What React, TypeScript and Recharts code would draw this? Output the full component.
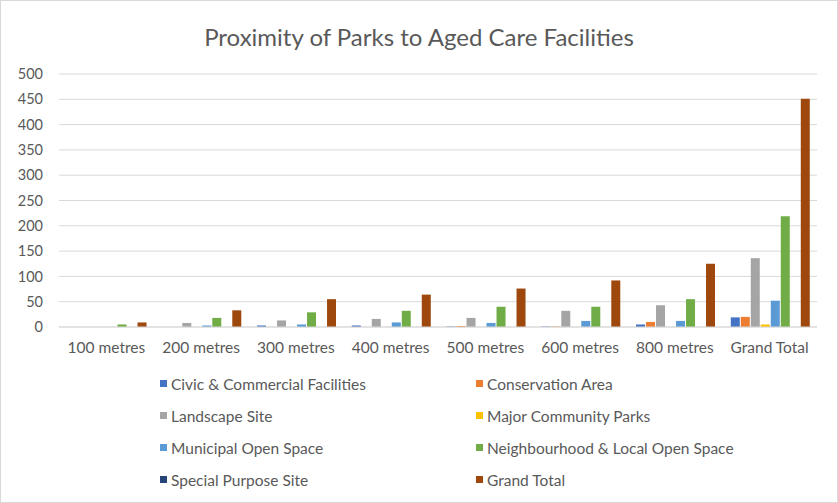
import React from 'react';
import { BarChart, Bar, XAxis, YAxis, CartesianGrid } from 'recharts';

const categories = ['100 metres', '200 metres', '300 metres', '400 metres', '500 metres', '600 metres', '800 metres', 'Grand Total'];

const civic = [0, 0, 3, 3, 1, 1, 5, 19];
const conservation = [0, 0, 0, 0, 2, 1, 10, 20];
const landscape = [0, 8, 13, 16, 18, 32, 43, 136];
const majorParks = [0, 0, 0, 0, 0, 0, 0, 5];
const municipal = [0, 3, 5, 9, 8, 12, 12, 52];
const neighbourhood = [5, 18, 29, 32, 40, 40, 55, 219];
const specialPurpose = [0, 0, 0, 0, 0, 0, 0, 0];
const grandTotal = [9, 33, 55, 64, 76, 92, 125, 451];

const yTicks = [0, 50, 100, 150, 200, 250, 300, 350, 400, 450, 500];

const series = [
  { key: 'civic', name: 'Civic & Commercial Facilities', color: '#4472C4', values: civic },
  { key: 'conservation', name: 'Conservation Area', color: '#ED7D31', values: conservation },
  { key: 'landscape', name: 'Landscape Site', color: '#A5A5A5', values: landscape },
  { key: 'major', name: 'Major Community Parks', color: '#FFC000', values: majorParks },
  { key: 'municipal', name: 'Municipal Open Space', color: '#5B9BD5', values: municipal },
  { key: 'neighbourhood', name: 'Neighbourhood & Local Open Space', color: '#70AD47', values: neighbourhood },
  { key: 'special', name: 'Special Purpose Site', color: '#264478', values: specialPurpose },
  { key: 'total', name: 'Grand Total', color: '#9E480E', values: grandTotal },
];

const data = categories.map((c, i) => {
  const row: any = { category: c };
  series.forEach(s => { row[s.key] = s.values[i]; });
  return row;
});

const FONT = 'Lato, "Open Sans", sans-serif';

// legend drawn outside recharts so it does not eat the plot height
const LegendGrid = () => (
  <div style={{ position: 'absolute', top: 373, left: 0, display: 'grid', gridTemplateColumns: '316px 320px', rowGap: 13, paddingLeft: 159, fontFamily: FONT, fontSize: 15.5, color: '#595959' }}>
    {series.map(s => (
      <div key={s.key} style={{ display: 'flex', alignItems: 'center', height: 19, whiteSpace: 'nowrap' }}>
        <span style={{ width: 7, height: 7, background: s.color, marginRight: 4, display: 'inline-block' }} />
        {s.name}
      </div>
    ))}
  </div>
);

export default function App() {
  return (
    <div style={{ position: 'absolute', left: 0, top: 0, width: 836, height: 501, border: '1px solid #d9d9d9', background: '#fff' }}>
      <div style={{ position: 'absolute', top: 21, width: '100%', textAlign: 'center', fontFamily: FONT, fontSize: 24, color: '#595959' }}>
        Proximity of Parks to Aged Care Facilities
      </div>
      <BarChart width={836} height={501} data={data} margin={{ top: 73, right: 20, left: 8, bottom: 145 }}
        barCategoryGap="9%" barGap={1}>
        <CartesianGrid vertical={false} stroke="#d9d9d9" />
        <XAxis dataKey="category" tickLine={false} axisLine={{ stroke: '#d9d9d9' }} height={30}
          tick={{ fill: '#595959', fontSize: 15.5, fontFamily: FONT }} tickMargin={9} interval={0} />
        <YAxis domain={[0, 500]} ticks={yTicks} width={50} tickLine={false} axisLine={false}
          tick={{ fill: '#595959', fontSize: 14.5, fontFamily: FONT }} tickMargin={10} interval={0} />
        {series.map(s => (
          <Bar key={s.key} dataKey={s.key} name={s.name} fill={s.color} isAnimationActive={false} />
        ))}
      </BarChart>
      <LegendGrid />
    </div>
  );
}
